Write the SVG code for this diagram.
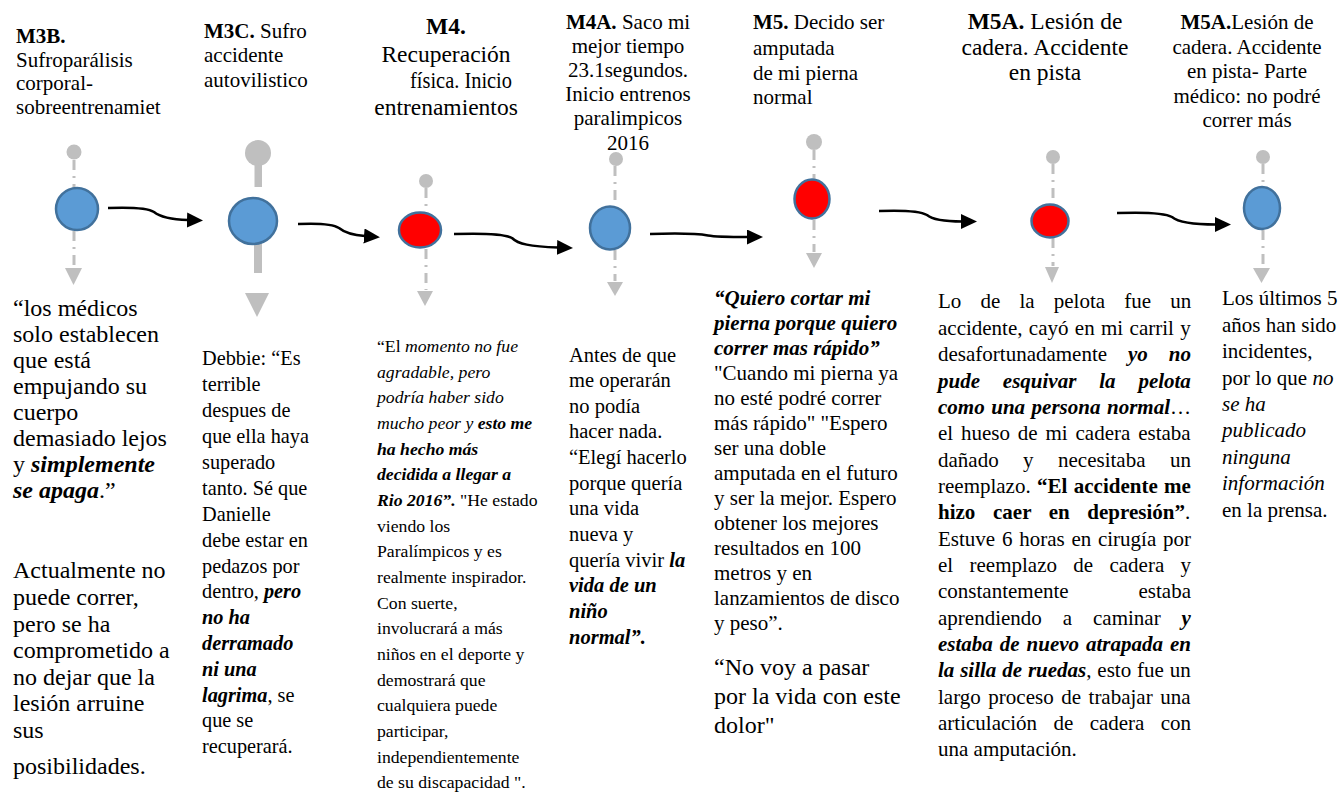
<svg xmlns="http://www.w3.org/2000/svg" width="1343" height="805" viewBox="0 0 1343 805">
<style>
text{font-family:"Liberation Serif","Times New Roman",serif;fill:#000}
.h{font-size:21px}
.hl{font-size:23.5px}
.c{text-anchor:middle}
.b{font-weight:bold}
.i{font-style:italic}
.bi{font-weight:bold;font-style:italic}
.f24{font-size:24px}
.f20{font-size:20.3px}
.f17{font-size:17.7px}
.f205{font-size:20.5px}
.f21{font-size:21px}
.dash{stroke:#BFBFBF;stroke-width:3;stroke-dasharray:10 6 2 6;fill:none}
.stem{fill:#BFBFBF}
.gray{fill:#BFBFBF}
.blue{fill:#5B9BD5;stroke:#41719C;stroke-width:2.5}
.red{fill:#FF0000;stroke:#41719C;stroke-width:2.5}
.conn{fill:none;stroke:#000;stroke-width:2.5}
</style>
<defs>
<marker id="ah" markerUnits="userSpaceOnUse" markerWidth="17" markerHeight="16" refX="1" refY="7.5" orient="auto">
<path d="M0,0 L16,7.5 L0,15 z" fill="#000"/>
</marker>
</defs>
<rect width="1343" height="805" fill="#fff"/>

<g id="node-m3b">
<text class="h"><tspan x="16" y="43" class="b">M3B.</tspan><tspan x="16" y="67">Sufroparálisis</tspan><tspan x="16" y="90">corporal-</tspan><tspan x="16" y="114">sobreentrenamiet</tspan></text>
<line class="dash" x1="74" y1="160" x2="74" y2="188"/>
<line class="dash" x1="74" y1="231" x2="74" y2="266"/>
<circle class="gray" cx="74" cy="152" r="7.5"/>
<circle class="blue" cx="77" cy="209" r="21"/>
<polygon class="gray" points="65,268 82,268 73.5,285"/>
<text class="f24"><tspan x="13" y="316">“los médicos</tspan><tspan x="13" y="342">solo establecen</tspan><tspan x="13" y="368">que está</tspan><tspan x="13" y="394">empujando su</tspan><tspan x="13" y="420">cuerpo</tspan><tspan x="13" y="446">demasiado lejos</tspan><tspan x="13" y="472">y <tspan class="bi">simplemente</tspan></tspan><tspan x="13" y="498"><tspan class="bi">se apaga</tspan>.”</tspan></text>
<text class="f24"><tspan x="13" y="578">Actualmente no</tspan><tspan x="13" y="605">puede correr,</tspan><tspan x="13" y="632">pero se ha</tspan><tspan x="13" y="658">comprometido a</tspan><tspan x="13" y="685">no dejar que la</tspan><tspan x="13" y="711">lesión arruine</tspan><tspan x="13" y="738">sus</tspan><tspan x="13" y="774">posibilidades.</tspan></text>
</g>

<g id="node-m3c">
<text class="h"><tspan x="204" y="38"><tspan class="b">M3C.</tspan> Sufro</tspan><tspan x="204" y="62">accidente</tspan><tspan x="204" y="87">autovilistico</tspan></text>
<rect class="stem" x="254.5" y="153" width="7.5" height="34"/>
<rect class="stem" x="254" y="240" width="8" height="33"/>
<circle class="gray" cx="258" cy="153" r="13"/>
<ellipse class="blue" cx="253" cy="221" rx="24" ry="23"/>
<polygon class="gray" points="245,293 269,293 257,317"/>
<text class="f20"><tspan x="202" y="365">Debbie: “Es</tspan><tspan x="202" y="391">terrible</tspan><tspan x="202" y="417">despues de</tspan><tspan x="202" y="443">que ella haya</tspan><tspan x="202" y="469">superado</tspan><tspan x="202" y="495">tanto. Sé que</tspan><tspan x="202" y="521">Danielle</tspan><tspan x="202" y="547">debe estar en</tspan><tspan x="202" y="573">pedazos por</tspan><tspan x="202" y="598">dentro, <tspan class="bi">pero</tspan></tspan><tspan x="202" y="624" class="bi">no ha</tspan><tspan x="202" y="650" class="bi">derramado</tspan><tspan x="202" y="676" class="bi">ni una</tspan><tspan x="202" y="702"><tspan class="bi">lagrima</tspan>, se</tspan><tspan x="202" y="727">que se</tspan><tspan x="202" y="753">recuperará.</tspan></text>
</g>

<g id="node-m4">
<text class="hl c"><tspan x="446" y="34" class="b">M4.</tspan><tspan x="446" y="62">Recuperación</tspan><tspan x="446" y="115">entrenamientos</tspan></text>
<text class="hl" x="410" y="88" textLength="102" lengthAdjust="spacingAndGlyphs">física. Inicio</text>
<line class="dash" x1="426" y1="188" x2="426" y2="212"/>
<line class="dash" x1="426" y1="249" x2="426" y2="290"/>
<circle class="gray" cx="426" cy="181" r="7"/>
<ellipse class="red" cx="420" cy="230" rx="21" ry="17.5"/>
<polygon class="gray" points="417,291 433,291 425,306"/>
<text class="f17"><tspan x="377" y="352">“El <tspan class="i">momento no fue</tspan></tspan><tspan x="377" y="378" class="i">agradable, pero</tspan><tspan x="377" y="403" class="i">podría haber sido</tspan><tspan x="377" y="429"><tspan class="i">mucho peor y </tspan><tspan class="bi">esto me</tspan></tspan><tspan x="377" y="455" class="bi">ha hecho más</tspan><tspan x="377" y="480" class="bi">decidida a llegar a</tspan><tspan x="377" y="506"><tspan class="bi">Rio 2016”.</tspan> "He estado</tspan><tspan x="377" y="532">viendo los</tspan><tspan x="377" y="557">Paralímpicos y es</tspan><tspan x="377" y="583">realmente inspirador.</tspan><tspan x="377" y="609">Con suerte,</tspan><tspan x="377" y="634">involucrará a más</tspan><tspan x="377" y="660">niños en el deporte y</tspan><tspan x="377" y="686">demostrará que</tspan><tspan x="377" y="711">cualquiera puede</tspan><tspan x="377" y="737">participar,</tspan><tspan x="377" y="763">independientemente</tspan><tspan x="377" y="788">de su discapacidad ".</tspan></text>
</g>

<g id="node-m4a">
<text class="h c"><tspan x="628" y="29"><tspan class="b">M4A.</tspan> Saco mi</tspan><tspan x="628" y="53">mejor tiempo</tspan><tspan x="628" y="77">23.1segundos.</tspan><tspan x="628" y="101">Inicio entrenos</tspan><tspan x="628" y="125">paralimpicos</tspan><tspan x="628" y="150">2016</tspan></text>
<line class="dash" x1="615" y1="166" x2="615" y2="206"/>
<line class="dash" x1="615" y1="250" x2="615" y2="281"/>
<circle class="gray" cx="616" cy="159" r="7"/>
<ellipse class="blue" cx="610" cy="228" rx="20" ry="21.5"/>
<polygon class="gray" points="607,282 623,282 615,296"/>
<text class="f205"><tspan x="569" y="362">Antes de que</tspan><tspan x="569" y="387">me operarán</tspan><tspan x="569" y="413">no podía</tspan><tspan x="569" y="438">hacer nada.</tspan><tspan x="569" y="464">“Elegí hacerlo</tspan><tspan x="569" y="490">porque quería</tspan><tspan x="569" y="515">una vida</tspan><tspan x="569" y="541">nueva y</tspan><tspan x="569" y="567">quería vivir <tspan class="bi">la</tspan></tspan><tspan x="569" y="592" class="bi">vida de un</tspan><tspan x="569" y="618" class="bi">niño</tspan><tspan x="569" y="644" class="bi">normal”.</tspan></text>
</g>

<g id="node-m5">
<text class="h"><tspan x="753" y="29"><tspan class="b">M5.</tspan> Decido ser</tspan><tspan x="753" y="55">amputada</tspan><tspan x="753" y="80">de mi pierna</tspan><tspan x="753" y="104">normal</tspan></text>
<line class="dash" x1="814" y1="150" x2="814" y2="179"/>
<line class="dash" x1="814" y1="220" x2="814" y2="252"/>
<circle class="gray" cx="814" cy="142" r="8"/>
<ellipse class="red" cx="812" cy="199" rx="17.5" ry="19.5"/>
<polygon class="gray" points="806,253 822,253 814,268"/>
<text class="f21"><tspan x="714" y="305" class="bi">“Quiero cortar mi</tspan><tspan x="714" y="330" class="bi">pierna porque quiero</tspan><tspan x="714" y="355" class="bi">correr mas rápido”</tspan><tspan x="714" y="380">"Cuando mi pierna ya</tspan><tspan x="714" y="405">no esté podré correr</tspan><tspan x="714" y="430">más rápido" "Espero</tspan><tspan x="714" y="455">ser una doble</tspan><tspan x="714" y="480">amputada en el futuro</tspan><tspan x="714" y="505">y ser la mejor. Espero</tspan><tspan x="714" y="530">obtener los mejores</tspan><tspan x="714" y="555">resultados en 100</tspan><tspan x="714" y="580">metros y en</tspan><tspan x="714" y="605">lanzamientos de disco</tspan><tspan x="714" y="630">y peso”.</tspan></text>
<text class="f24"><tspan x="714" y="675">“No voy a pasar</tspan><tspan x="714" y="704">por la vida con este</tspan><tspan x="714" y="733">dolor"</tspan></text>
</g>

<g id="node-m5a-1">
<text class="hl c"><tspan x="1045" y="29"><tspan class="b">M5A.</tspan> Lesión de</tspan><tspan x="1045" y="55">cadera. Accidente</tspan><tspan x="1045" y="80">en pista</tspan></text>
<line class="dash" x1="1053" y1="164" x2="1053" y2="204"/>
<line class="dash" x1="1053" y1="238" x2="1053" y2="266"/>
<circle class="gray" cx="1053" cy="157" r="7"/>
<ellipse class="red" cx="1050" cy="221" rx="18.5" ry="16.5"/>
<polygon class="gray" points="1045,267 1059,267 1052,283"/>
<g class="f21">
<text x="938" y="308" style="word-spacing:13.9px">Lo de la pelota fue un</text>
<text x="938" y="335" style="word-spacing:1.1px">accidente, cayó en mi carril y</text>
<text x="938" y="361" style="word-spacing:15.7px">desafortunadamente <tspan class="bi">yo no</tspan></text>
<text x="938" y="388" class="bi" style="word-spacing:17.6px">pude esquivar la pelota</text>
<text x="938" y="414" style="word-spacing:1.3px"><tspan class="bi">como una persona normal</tspan>…</text>
<text x="938" y="440" style="word-spacing:2.6px">el hueso de mi cadera estaba</text>
<text x="938" y="467" style="word-spacing:19.2px">dañado y necesitaba un</text>
<text x="938" y="493" style="word-spacing:1.1px">reemplazo. <tspan class="b">“El accidente me</tspan></text>
<text x="938" y="519" style="word-spacing:12.4px"><tspan class="b">hizo caer en depresión”</tspan>.</text>
<text x="938" y="546" style="word-spacing:1.5px">Estuve 6 horas en cirugía por</text>
<text x="938" y="572" style="word-spacing:11.1px">el reemplazo de cadera y</text>
<text x="938" y="598">constantemente</text>
<text x="1191" y="598" text-anchor="end">estaba</text>
<text x="938" y="625" style="word-spacing:15.7px">aprendiendo a caminar <tspan class="bi">y</tspan></text>
<text x="938" y="651" class="bi" style="word-spacing:1.7px">estaba de nuevo atrapada en</text>
<text x="938" y="677" style="word-spacing:0.6px"><tspan class="bi">la silla de ruedas</tspan>, esto fue un</text>
<text x="938" y="704" style="word-spacing:2.3px">largo proceso de trabajar una</text>
<text x="938" y="730" style="word-spacing:11.1px">articulación de cadera con</text>
<text x="938" y="756">una amputación.</text>
</g>
</g>

<g id="node-m5a-2">
<text class="h c"><tspan x="1247" y="29"><tspan class="b">M5A.</tspan>Lesión de</tspan><tspan x="1247" y="54">cadera. Accidente</tspan><tspan x="1247" y="78">en pista- Parte</tspan><tspan x="1247" y="103">médico: no podré</tspan><tspan x="1247" y="127">correr más</tspan></text>
<line class="dash" x1="1263" y1="164" x2="1263" y2="186"/>
<line class="dash" x1="1263" y1="230" x2="1263" y2="267"/>
<circle class="gray" cx="1263" cy="157" r="7"/>
<ellipse class="blue" cx="1262" cy="208" rx="18" ry="21"/>
<polygon class="gray" points="1253,268 1270,268 1261.5,283"/>
<text class="f21"><tspan x="1222" y="305">Los últimos 5</tspan><tspan x="1222" y="332">años han sido</tspan><tspan x="1222" y="358">incidentes,</tspan><tspan x="1222" y="385">por lo que <tspan class="i">no</tspan></tspan><tspan x="1222" y="411" class="i">se ha</tspan><tspan x="1222" y="437" class="i">publicado</tspan><tspan x="1222" y="464" class="i">ninguna</tspan><tspan x="1222" y="490" class="i">información</tspan><tspan x="1222" y="517">en la prensa.</tspan></text>
</g>

<g id="connectors">
<path class="conn" marker-end="url(#ah)" d="M108,208 C135,207 148,208 154,212 C160,217 170,219.5 188,220"/>
<path class="conn" marker-end="url(#ah)" d="M298,224 C320,223 333,224 339,228 C345,233 352,235 365,236"/>
<path class="conn" marker-end="url(#ah)" d="M454,234 C485,233 505,234 512,238 C518,244 530,246.5 558,247.5"/>
<path class="conn" marker-end="url(#ah)" d="M650,234 C680,233 700,234 708,235.5 C716,237 730,237 748,237"/>
<path class="conn" marker-end="url(#ah)" d="M879,211 C905,210 920,211 927,215 C933,220 945,221.5 962,221.5"/>
<path class="conn" marker-end="url(#ah)" d="M1117,213 C1145,212 1165,213 1172,217 C1178,222 1195,224.5 1216,224.5"/>
</g>
</svg>
